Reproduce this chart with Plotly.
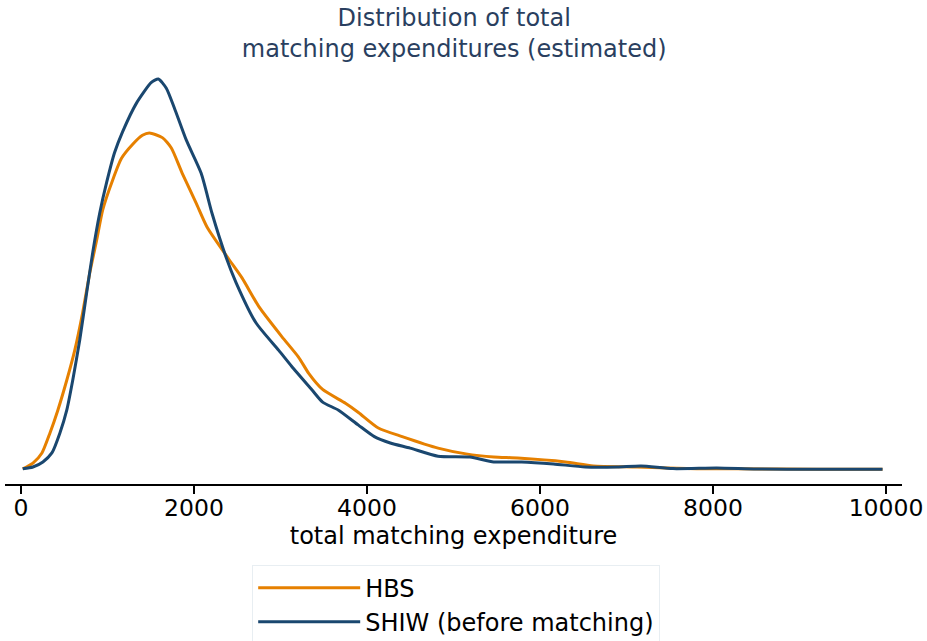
import plotly.graph_objects as go

# Estimated kernel densities (density in units of 1e-4)
hbs_x = [20, 138, 242, 334, 426, 529, 621, 713, 794, 875, 944, 1059, 1162, 1289, 1404,
         1484, 1634, 1738, 1864, 2025, 2152, 2405, 2555, 2750, 3015, 3210, 3326, 3487,
         3751, 3901, 4131, 4407, 4821, 5144, 5466, 5742, 6294, 6617, 7123, 7813, 8274,
         9194, 9960]
hbs_y = [0.01, 0.06, 0.148, 0.32, 0.52, 0.78, 1.04, 1.37, 1.71, 2.00, 2.26, 2.52, 2.71,
         2.83, 2.91, 2.93, 2.89, 2.80, 2.58, 2.32, 2.11, 1.83, 1.67, 1.42, 1.16, 0.98,
         0.84, 0.70, 0.58, 0.50, 0.365, 0.29, 0.19, 0.14, 0.113, 0.104, 0.07, 0.035,
         0.026, 0.01, 0.01, 0.007, 0.006]

shiw_x = [20, 138, 253, 357, 449, 529, 598, 679, 759, 829, 909, 990, 1082, 1174, 1335,
          1507, 1588, 1680, 1772, 1910, 2083, 2209, 2371, 2486, 2716, 2980, 3130, 3360,
          3487, 3671, 3901, 4085, 4269, 4499, 4821, 5190, 5466, 5788, 6156, 6524, 6893,
          7169, 7537, 8043, 8504, 9194, 9960]
shiw_y = [0.01, 0.026, 0.07, 0.148, 0.32, 0.52, 0.78, 1.13, 1.54, 1.89, 2.23, 2.50, 2.76,
          2.94, 3.19, 3.37, 3.40, 3.32, 3.15, 2.87, 2.58, 2.23, 1.85, 1.63, 1.28, 1.04,
          0.90, 0.70, 0.59, 0.52, 0.39, 0.29, 0.235, 0.19, 0.12, 0.113, 0.07, 0.07, 0.052,
          0.026, 0.026, 0.035, 0.012, 0.017, 0.008, 0.007, 0.006]

x_ticks = [0, 2000, 4000, 6000, 8000, 10000]

FONT = "DejaVu Sans"

fig = go.Figure()
fig.add_trace(go.Scatter(x=hbs_x, y=hbs_y, mode="lines", name="HBS",
                         line=dict(color="#e68000", width=3, shape="spline", smoothing=0.6)))
fig.add_trace(go.Scatter(x=shiw_x, y=shiw_y, mode="lines", name="SHIW (before matching)",
                         line=dict(color="#1a476f", width=3, shape="spline", smoothing=0.6)))

fig.update_layout(
    width=927, height=641,
    margin=dict(l=5, r=25, t=60, b=157, autoexpand=False),
    paper_bgcolor="white", plot_bgcolor="white",
    font=dict(family=FONT, size=24, color="black"),
    title=dict(text="Distribution of total<br>matching expenditures (estimated)",
               x=0.49, xanchor="center", yref="container", y=1 - 26 / 641, yanchor="middle",
               font=dict(family=FONT, size=24, color="#2a3f5f")),
    xaxis=dict(range=[-185, 10185], tickvals=x_ticks, ticktext=[str(v) for v in x_ticks],
               showgrid=False, zeroline=False, showline=True, linecolor="black", linewidth=2,
               ticks="outside", ticklen=8, tickwidth=1.5, tickcolor="black",
               ticklabelstandoff=-6,
               tickfont=dict(family=FONT, size=23.5, color="black"),
               title=dict(text="total matching expenditure", standoff=0,
                          font=dict(family=FONT, size=24, color="black"))),
    yaxis=dict(range=[-0.122, 3.565], visible=False, showgrid=False, zeroline=False),
    legend=dict(x=0.503, xanchor="center", y=-0.19, yanchor="top",
                bgcolor="white", bordercolor="#e8eef2", borderwidth=1,
                font=dict(family=FONT, size=24, color="black"), itemwidth=102,
                tracegroupgap=0),
    showlegend=True,
)

fig.write_html("out.html")
